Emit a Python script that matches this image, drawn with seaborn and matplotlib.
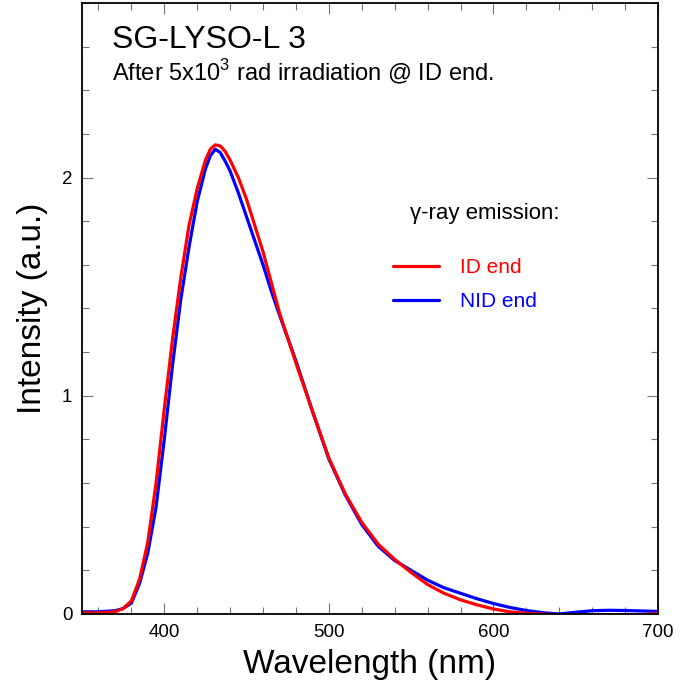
import numpy as np
import pandas as pd
import seaborn as sns
import matplotlib.pyplot as plt
from matplotlib.ticker import MultipleLocator, FixedLocator
from matplotlib.lines import Line2D

# Longitud de onda (nm)
wavelength = [350, 360, 370, 375, 380, 385, 390, 395, 400, 405, 410, 415, 420,
              425, 428, 431, 434, 437, 440, 445, 450, 455, 460, 465, 470, 480,
              490, 500, 510, 520, 530, 540, 550, 560, 570, 580, 590, 600, 610,
              620, 630, 640, 650, 660, 670, 680, 690, 700]

# Emision gamma, extremo ID
id_end = [0.005, 0.005, 0.01, 0.025, 0.06, 0.16, 0.33, 0.60, 0.94, 1.26, 1.54,
          1.78, 1.95, 2.08, 2.13, 2.15, 2.145, 2.12, 2.08, 2.00, 1.90, 1.78,
          1.66, 1.52, 1.38, 1.15, 0.93, 0.715, 0.55, 0.42, 0.32, 0.25, 0.19,
          0.135, 0.095, 0.065, 0.042, 0.023, 0.01, 0.003, 0.0, -0.004, -0.004,
          -0.004, -0.004, -0.004, -0.004, 0.003]

# Emision gamma, extremo NID
nid_end = [0.01, 0.01, 0.015, 0.025, 0.05, 0.14, 0.28, 0.49, 0.80, 1.14, 1.44,
           1.68, 1.89, 2.04, 2.10, 2.13, 2.115, 2.075, 2.03, 1.93, 1.82, 1.71,
           1.60, 1.48, 1.37, 1.16, 0.93, 0.71, 0.545, 0.41, 0.31, 0.245, 0.20,
           0.155, 0.12, 0.095, 0.07, 0.048, 0.03, 0.016, 0.006, 0.0, 0.008,
           0.015, 0.017, 0.016, 0.014, 0.012]

x_ticks = [400, 500, 600, 700]
y_ticks = [0, 1, 2]

df = pd.DataFrame({'wl': wavelength, 'id': id_end, 'nid': nid_end})

sns.set_style('ticks')
plt.rcParams['font.family'] = ['Liberation Sans', 'DejaVu Sans']
plt.rcParams['mathtext.fontset'] = 'custom'
plt.rcParams['mathtext.rm'] = 'Liberation Sans'
plt.rcParams['text.color'] = 'black'
plt.rcParams['axes.labelcolor'] = 'black'

fig = plt.figure(figsize=(6.9, 6.91), dpi=100)
ax = fig.add_axes([82 / 690, 1 - 614 / 691, 576 / 690, 611 / 691])

sns.lineplot(data=df, x='wl', y='nid', color='#0000ff', linewidth=2.3, ax=ax)
sns.lineplot(data=df, x='wl', y='id', color='#ff0000', linewidth=2.3, ax=ax)

ax.set_xlim(350, 700)
ax.set_ylim(0, 2.8)

ax.xaxis.set_major_locator(FixedLocator(x_ticks))
ax.xaxis.set_minor_locator(MultipleLocator(20))
ax.yaxis.set_major_locator(FixedLocator(y_ticks))
ax.yaxis.set_minor_locator(MultipleLocator(0.2))
ax.set_yticklabels([str(v) for v in y_ticks])

ax.tick_params(which='both', direction='in', top=True, right=True,
               color='0.45', width=0.8, labelsize=13.5, labelcolor='black')
ax.tick_params(which='major', length=8, pad=7)
ax.tick_params(which='minor', length=5)
for s in ax.spines.values():
    s.set_linewidth(1.3)
    s.set_color('black')

ax.set_xlabel('Wavelength (nm)', fontsize=24, labelpad=6)
ax.set_ylabel('Intensity (a.u.)', fontsize=24, labelpad=10)

ax.text(0.052, 0.926, 'SG-LYSO-L 3', transform=ax.transAxes, fontsize=23)
ax.text(0.052, 0.871, r'After 5x10$^{\mathrm{3}}$ rad irradiation @ ID end.',
        transform=ax.transAxes, fontsize=17)
ax.text(0.569, 0.656, 'γ-ray emission:', transform=ax.transAxes,
        fontsize=16, va='center')

handles = [Line2D([], [], color='#ff0000', linewidth=2.3),
           Line2D([], [], color='#0000ff', linewidth=2.3)]
leg = ax.legend(handles, ['ID end', 'NID end'], loc='upper left',
                bbox_to_anchor=(0.540, 0.582), frameon=False, fontsize=15,
                handlelength=2.2, handletextpad=1.0, labelspacing=0.7,
                borderpad=0, borderaxespad=0, labelcolor='linecolor')

plt.savefig('out.png', dpi=100)
